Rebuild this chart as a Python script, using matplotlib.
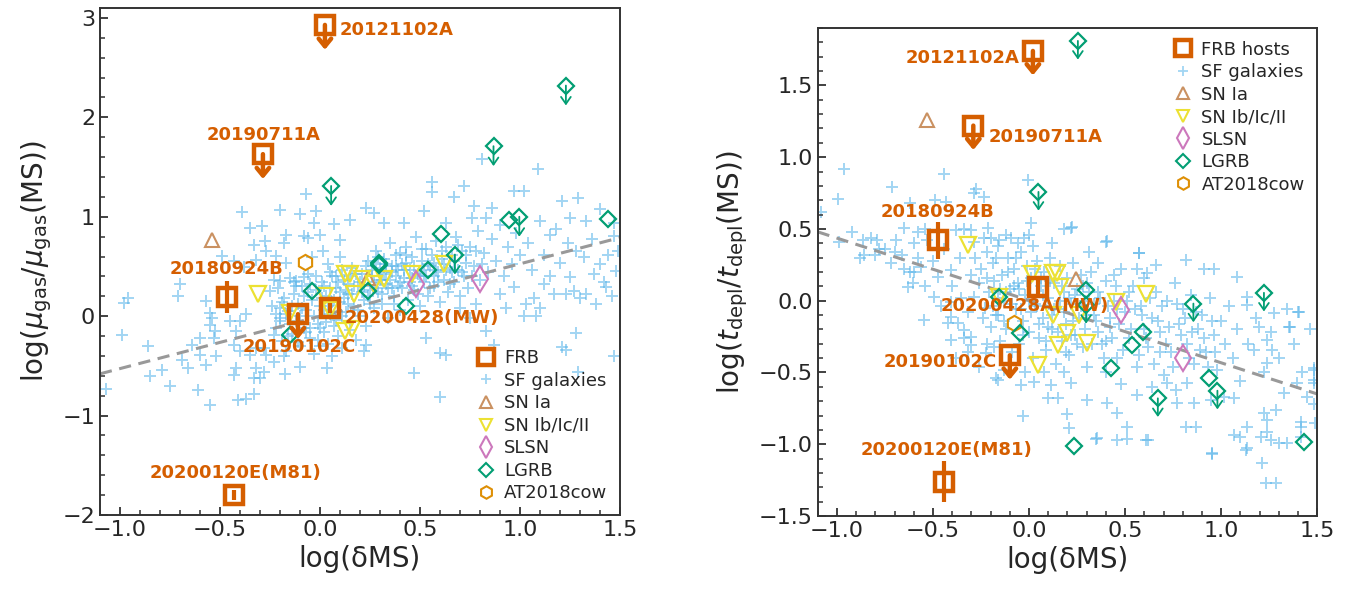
import matplotlib
matplotlib.use("Agg")
import matplotlib.pyplot as plt
from matplotlib.lines import Line2D
from matplotlib.ticker import MultipleLocator

plt.rcParams['font.family'] = ['DejaVu Sans']
plt.rcParams['mathtext.fontset'] = 'dejavusans'

C_FRB = '#d55e00'
C_SF = '#56b4e9'
C_IA = '#ca9161'
C_CC = '#ece133'
C_SLSN = '#cc78bc'
C_GRB = '#029e73'
C_COW = '#de8f05'
C_TXT = '#262626'

# ---------------- LEFT PANEL DATA: log(mu_gas / mu_gas(MS)) ----------------
frb_names_L = ['20121102A', '20190711A', '20180924B', '20190102C', '20200428(MW)', '20200120E(M81)']
frb_x_L = [0.025, -0.285, -0.465, -0.11, 0.05, -0.43]
frb_y_L = [2.93, 1.63, 0.19, 0.02, 0.08, -1.80]
frb_yerr_L = [0.0, 0.0, 0.16, 0.0, 0.05, 0.05]
frb_ul_L = [True, True, False, True, False, False]
frb_lab_x_L = [0.10, -0.28, -0.465, -0.105, 0.125, -0.42]
frb_lab_y_L = [2.88, 1.82, 0.47, -0.31, -0.02, -1.58]
frb_lab_ha_L = ['left', 'center', 'center', 'center', 'left', 'center']

sf_x_L = [-1.07, -0.99, -0.98, -0.96, -0.86, -0.85, -0.79, -0.75, -0.61, -0.55,
          -0.41, -0.37, -0.33, -0.43, -0.42, -0.70, -0.71, -0.49, -0.39, -0.20,
          -0.07, -0.10, -0.02, -0.03, 0.07, 0.15, -0.35, -0.29, -0.17, -0.18,
          -0.08, -0.06, 0.10, 0.56, 0.56, 0.72, 0.67, 1.09, 0.81, 0.97,
          1.02, 1.21, 1.29, 0.52, 0.23, 0.27, 0.32, 0.42, 0.63, 0.77,
          0.76, 0.83, 0.86, 1.10, 1.18, 1.25, 1.33, 1.40, 1.47, 1.47,
          1.49, 1.48, 1.28, 1.40, 1.37, 1.42, 1.43, 1.25, 1.27, 1.30,
          1.23, 1.33, 1.12, 1.17, 1.07, 1.03, 1.10, 1.02, 1.08, 0.90,
          0.93, 0.97, 0.78, 0.83, 0.87, 0.70, 0.75, 0.60, 0.63, 0.53,
          0.47, 0.60, 1.28, 1.23, 1.29, 1.47, 1.21, 0.23, 0.22,
          -0.69, -0.66, -0.57, -0.52, -0.60, -0.64, -0.60, -0.55, -0.525, -0.53,
          -0.54, -0.57, -0.55, -0.45, -0.40, -0.37, -0.42, -0.43, -0.40, -0.35,
          -0.32, -0.28, -0.27, -0.32, -0.23, -0.23, -0.20, -0.17, -0.20, -0.25,
          -0.20, -0.12, -0.08, -0.43, -0.38, -0.32, -0.22, -0.17, -0.33, -0.275,
          -0.27, 0.00, 0.017, -0.10, 0.033, -0.175, -0.33, -0.30, -0.28,
          -0.24, -0.22, -0.21, -0.19, -0.18, -0.17, -0.16, -0.15, -0.14, -0.13,
          -0.12, -0.11, -0.10, -0.09, -0.08, -0.07, -0.06, -0.05, -0.04, -0.03,
          -0.02, -0.01, 0.00, 0.01, 0.02, 0.03, 0.04, 0.05, 0.06, 0.07,
          0.08, 0.09, 0.10, 0.11, 0.12, 0.13, 0.14, 0.15, 0.16, 0.17,
          0.18, 0.19, 0.20, 0.21, 0.22, 0.23, 0.24, 0.25, -0.20, -0.23,
          -0.15, -0.12, -0.08, -0.05, -0.02, 0.02, 0.05, 0.08, 0.11, 0.14,
          0.00, -0.10, 0.06, -0.18, 0.10, 0.04, -0.04,
          0.26, 0.27, 0.28, 0.29, 0.30, 0.31, 0.32, 0.33, 0.34, 0.35,
          0.36, 0.37, 0.38, 0.39, 0.40, 0.41, 0.42, 0.43, 0.44, 0.45,
          0.46, 0.47, 0.48, 0.49, 0.50, 0.51, 0.52, 0.53, 0.54, 0.55,
          0.56, 0.57, 0.58, 0.59, 0.60, 0.61, 0.62, 0.63, 0.64, 0.65,
          0.66, 0.67, 0.68, 0.69, 0.70, 0.71, 0.72, 0.73, 0.74, 0.75,
          0.28, 0.33, 0.38, 0.43, 0.31, 0.36, 0.46, 0.52, 0.57, 0.40,
          0.77, 0.79, 0.80, 0.82, 0.84, 0.86, 0.88, 0.90, 0.92, 0.94,
          0.96, 0.98, 1.00, 1.04, 1.06, 1.12, 1.15, 1.20, 1.24, 1.32,
          1.36, 1.44, 1.46, 1.38, 1.15]
sf_y_L = [-0.73, -0.19, 0.13, 0.18, -0.30, -0.60, -0.54, -0.70, -0.74, -0.89,
          -0.84, -0.83, -0.78, -0.59, -0.52, 0.32, 0.20, 0.61, 1.05, 1.07,
          1.23, 1.03, 1.06, 0.94, 0.93, 0.97, 0.89, 0.91, 0.82, 0.74,
          0.81, 0.79, 0.77, 1.35, 1.25, 1.31, 1.20, 1.48, 1.58, 1.26,
          1.26, 1.16, 1.19, 1.06, 1.09, 1.04, 0.94, 0.94, 0.94, 1.11,
          0.99, 0.99, 1.09, 0.96, 0.88, 0.99, 0.96, 1.08, 0.94, 0.81,
          0.66, 0.45, 0.66, 0.52, 0.42, 0.34, 0.29, 0.39, 0.25, 0.18,
          0.22, 0.22, 0.32, 0.22, 0.18, 0.12, 0.08, 0.00, 0.00, 0.22,
          0.08, 0.29, 0.12, -0.15, -0.29, 0.08, -0.02, -0.37, -0.39, -0.22,
          -0.57, -0.81, -0.17, -0.34, -0.56, -0.40, -0.31, -0.29, -0.35,
          -0.44, -0.52, -0.49, -0.40, -0.39, -0.29, -0.22, -0.09, -0.15, -0.22,
          -0.02, 0.15, 0.03, -0.05, -0.05, 0.02, -0.15, -0.29, -0.35, -0.39,
          -0.32, -0.32, -0.39, -0.52, -0.46, -0.19, -0.05, 0.02, 0.08, 0.25,
          0.35, 0.35, 0.39, 0.56, 0.49, 0.57, 0.61, 0.54, 0.72, 0.76,
          0.66, 0.82, 0.66, -0.51, -0.52, -0.58, -0.62, -0.62, -0.56,
          0.10, -0.12, 0.28, -0.25, 0.18, -0.35, 0.05, 0.38, -0.18, 0.22,
          -0.05, 0.12, -0.30, 0.30, -0.12, 0.06, 0.42, -0.22, 0.16, -0.38,
          0.26, -0.08, 0.10, 0.34, -0.16, 0.20, -0.28, 0.02, 0.40, -0.10,
          0.28, -0.20, 0.14, -0.32, 0.36, 0.04, 0.22, -0.14, 0.48, 0.10,
          -0.24, 0.30, 0.00, 0.42, 0.16, -0.10, 0.56, 0.26, -0.02, 0.36,
          -0.08, 0.30, 0.20, -0.12, 0.40, 0.06, 0.28, -0.04, 0.46, 0.12,
          -0.30, 0.00, -0.40, -0.40, 0.60, 0.52, 0.60,
          0.40, 0.08, 0.66, 0.24, 0.48, 0.12, 0.58, 0.32, -0.02, 0.74,
          0.44, 0.20, 0.62, 0.30, 0.06, 0.52, 0.38, 0.70, 0.16, 0.46,
          0.60, 0.26, 0.80, 0.42, 0.10, 0.56, 0.34, 0.68, 0.20, 0.50,
          0.62, 0.30, 0.76, 0.44, 0.14, 0.58, 0.36, 0.70, 0.24, 0.48,
          0.62, 0.34, 0.80, 0.46, 0.20, 0.66, 0.40, 0.54, 0.28, 0.70,
          0.52, 0.44, 0.50, 0.54, 0.36, 0.28, 0.38, 0.46, 0.40, 0.64,
          0.50, 0.86, 0.36, 0.64, 0.44, 0.78, 0.56, 0.92, 0.40, 0.70,
          0.52, 0.84, 0.62, 0.74, 0.46, 0.62, 0.82, 0.54, 0.74, 0.60,
          0.78, 0.62, 0.20, 0.12, 0.40]

# dense core of the SF cloud (left)
sfc_x_L = [-0.22, -0.19, -0.16, -0.13, -0.11, -0.09, -0.07, -0.05, -0.03, -0.01,
           0.01, 0.03, 0.05, 0.07, 0.09, 0.11, 0.13, 0.15, 0.17, 0.19,
           0.21, 0.23, 0.25, 0.27, 0.29, 0.31, 0.33, 0.35, 0.37, 0.39,
           0.41, 0.43, 0.45, 0.47, 0.49, 0.51, 0.53, 0.55, 0.57, 0.59,
           0.61, 0.63, 0.65, 0.67, 0.69, 0.71, 0.73, 0.76, 0.78, 0.81,
           0.02, 0.06, 0.10, 0.14, 0.18, 0.22, 0.26, 0.30, 0.34, 0.38,
           0.42, 0.46, 0.50, 0.54, 0.58, 0.62, 0.66, -0.14, -0.06, 0.00,
           0.04, 0.08, 0.12, 0.16, 0.20, 0.24, 0.28, 0.32, 0.36, 0.40]
sfc_y_L = [0.02, 0.14, -0.20, 0.34, -0.26, 0.08, -0.16, 0.32, 0.00, -0.24,
           0.18, -0.06, 0.44, 0.16, 0.34, 0.00, 0.26, 0.40, 0.30, 0.06,
           0.24, 0.50, 0.12, 0.34, 0.60, 0.22, 0.52, 0.36, 0.12, 0.46,
           0.28, 0.62, 0.34, 0.50, 0.22, 0.68, 0.40, 0.28, 0.54, 0.34,
           0.66, 0.46, 0.32, 0.56, 0.72, 0.44, 0.62, 0.40, 0.66, 0.52,
           0.30, 0.14, 0.24, 0.32, 0.42, 0.30, 0.46, 0.36, 0.28, 0.40,
           0.46, 0.30, 0.40, 0.52, 0.46, 0.52, 0.44, 0.10, 0.24, -0.12,
           0.10, 0.40, 0.18, 0.22, 0.34, 0.20, 0.28, 0.42, 0.50, 0.34]

ia_x_L = [-0.54, 0.24]
ia_y_L = [0.77, 0.38]
cc_x_L = [-0.31, -0.15, 0.025, 0.05, 0.125, 0.15, 0.21, 0.32, 0.17, 0.27, 0.125, 0.16, 0.46, 0.62]
cc_y_L = [0.22, 0.03, 0.20, 0.06, 0.42, 0.42, 0.37, 0.37, 0.22, 0.32, -0.15, -0.13, 0.42, 0.52]
slsn_x_L = [0.48, 0.80]
slsn_y_L = [0.32, 0.37]
grb_x_L = [0.056, 0.868, 1.23, 0.997, 0.943, 1.443, 0.604, 0.675, 0.54, 0.295, 0.295, 0.242, -0.042, -0.15, 0.43]
grb_y_L = [1.31, 1.71, 2.32, 1.00, 0.97, 0.98, 0.83, 0.62, 0.46, 0.54, 0.51, 0.25, 0.25, -0.19, 0.10]
grb_ul_L = [True, True, True, True, False, False, False, True, False, False, False, False, False, False, False]
cow_x_L = [-0.075]
cow_y_L = [0.55]
fit_x_L = [-1.1, 1.5]
fit_y_L = [-0.58, 0.79]

# ---------------- RIGHT PANEL DATA: log(t_depl / t_depl(MS)) ----------------
frb_names_R = ['20121102A', '20190711A', '20180924B', '20190102C', '20200428A(MW)', '20200120E(M81)']
frb_x_R = [0.02, -0.29, -0.475, -0.10, 0.045, -0.44]
frb_y_R = [1.74, 1.22, 0.42, -0.38, 0.094, -1.26]
frb_yerr_R = [0.0, 0.0, 0.13, 0.0, 0.05, 0.14]
frb_ul_R = [True, True, False, True, False, False]
frb_lab_x_R = [-0.05, -0.21, -0.476, -0.17, -0.024, -0.43]
frb_lab_y_R = [1.69, 1.14, 0.62, -0.43, -0.04, -1.04]
frb_lab_ha_R = ['right', 'left', 'center', 'right', 'center', 'center']

sf_x_R = [-0.965, -1.083, -0.996, -0.44, -0.715, -0.285, -0.233, -0.277, -0.62, -0.49,
          -0.43, -0.008, 0.009, 0.18, -0.65, -0.58, -0.54, -0.53, -0.60, -0.866,
          -0.79, -0.69, -0.75, -0.857, -0.80, -0.70, -0.987, -0.38, -0.34, -0.30,
          -0.285, -0.233, -0.216, -0.155, -0.095, -0.025, -0.65, -0.60, -0.56, -0.476,
          -0.407, -0.63, -0.606, -0.493, -0.407, -0.355, -0.285, -0.407, -0.424, -0.372,
          -0.337, -0.303, -0.407, -0.303, -0.545, -0.32, -0.225, -0.164, -0.13, -0.043,
          0.027, 0.113, 0.096, 0.148, -0.034, 0.22, 0.40, 0.57, 1.40, 1.36,
          1.48, 1.48, 0.95, 1.13, 0.62, 0.51, 0.35, 0.21, 0.20, -0.17,
          0.226, 0.405, 0.313, 0.573, 0.66, 0.564, 0.616, 0.815, 0.91, 0.963,
          1.084, 1.136, 1.136, 1.197, 1.275, 1.405, 1.353, 1.24, 1.266, 1.17,
          1.24, 1.483, 1.483, 1.396, 1.327, 1.448, 1.283, 1.222, 1.24, 1.413,
          1.49, 1.413, 1.136, 1.067, 1.10, 1.136, 1.205, 1.24, 1.257, 1.30,
          1.344, 1.413, 0.954, 1.214, 1.231, 1.283, 0.607, 0.46, 0.356, 0.512,
          0.867, 0.815, 0.46, 0.408, 0.304, 0.217, 0.772, 0.859, 0.945, 1.015,
          1.067, 0.72, 0.763, 0.824,
          -0.28, -0.26, -0.25, -0.23, -0.22, -0.21, -0.20, -0.19, -0.18, -0.17,
          -0.16, -0.15, -0.14, -0.13, -0.12, -0.11, -0.10, -0.09, -0.08, -0.07,
          -0.06, -0.05, -0.04, -0.03, -0.02, -0.01, 0.00, 0.01, 0.02, 0.03,
          0.04, 0.05, 0.06, 0.07, 0.08, 0.09, 0.10, 0.11, 0.12, 0.13,
          0.14, 0.15, 0.16, 0.17, 0.18, 0.19, 0.20, 0.21, 0.22, 0.23,
          0.24, 0.25, 0.26, 0.27, 0.28, 0.29, 0.30, -0.24, -0.18, -0.10,
          -0.06, 0.02, 0.08, -0.20, -0.12, 0.00, 0.12, -0.02, 0.18, -0.16,
          0.32, 0.34, 0.36, 0.38, 0.40, 0.42, 0.44, 0.46, 0.48, 0.50,
          0.52, 0.54, 0.56, 0.58, 0.60, 0.62, 0.64, 0.66, 0.68, 0.70,
          0.72, 0.74, 0.76, 0.78, 0.80, 0.82, 0.84, 0.86, 0.88, 0.90,
          0.92, 0.94, 0.96, 0.98, 1.00, 1.02, 1.04, 1.06, 1.08, 1.10,
          1.14, 1.18, 1.22, 1.26, 1.30, 1.34, 1.38, 1.42, 1.46, 1.48,
          0.36, 0.44, 0.52, 0.60, 0.68, 0.40, 0.48, 0.56, 0.64, 0.30,
          -0.30, -0.32, -0.36, -0.40, -0.44, -0.46, -0.50, -0.54, -0.58, -0.62,
          -0.66, -0.72, -0.78, -0.82, -0.92, -0.88, -0.34, -0.38, -0.26, -0.22]
sf_y_R = [0.916, 0.62, 0.71, 0.88, 0.79, 0.75, 0.72, 0.78, 0.68, 0.70,
          0.69, 0.84, 0.54, 0.50, 0.51, 0.48, 0.50, 0.42, 0.40, 0.42,
          0.42, 0.42, 0.36, 0.32, 0.32, 0.34, 0.41, 0.49, 0.50, 0.49,
          0.41, 0.44, 0.51, 0.42, 0.44, 0.44, 0.224, 0.20, 0.236, 0.166,
          0.213, 0.097, 0.12, 0.027, -0.008, 0.016, 0.027, -0.112, -0.158, -0.158,
          -0.205, -0.251, -0.274, -0.31, -0.135, -0.356, -0.367, -0.553, -0.483, -0.588,
          -0.565, -0.588, -0.68, -0.68, -0.80, 0.51, 0.41, 0.33, -0.08, -0.18,
          -0.47, -0.57, -1.07, -1.04, -0.97, -0.96, -0.96, -0.89, -0.79, -0.54,
          0.514, 0.417, 0.34, 0.329, 0.248, 0.224, 0.19, 0.282, 0.224, 0.224,
          0.166, 0.027, -0.031, -0.182, -0.089, -0.077, -0.182, -0.274, -0.344, -0.344,
          -0.437, -0.483, -0.553, -0.576, -0.646, -0.669, -0.762, -0.785, -0.831, -0.843,
          -0.855, -0.878, -0.878, -0.936, -0.947, -1.029, -0.947, -0.913, -0.97, -0.994,
          -0.994, -0.947, -1.063, -1.133, -1.272, -1.272, -0.97, -0.97, -0.959, -0.878,
          -0.878, -0.878, -0.785, -0.715, -0.692, -0.576, -0.715, -0.715, -0.692, -0.669,
          -0.68, -0.576, -0.622, -0.576,
          0.30, 0.12, 0.22, -0.05, 0.34, 0.06, -0.18, 0.26, 0.14, -0.10,
          0.38, -0.28, 0.18, 0.00, -0.20, 0.30, 0.08, -0.36, 0.22, -0.06,
          0.12, -0.30, 0.34, -0.14, 0.04, 0.24, -0.22, 0.16, -0.40, -0.02,
          0.28, -0.26, 0.10, -0.12, 0.20, -0.34, 0.02, 0.30, -0.20, 0.12,
          -0.44, -0.06, 0.24, -0.28, 0.06, -0.16, 0.16, -0.38, -0.02, 0.26,
          -0.24, 0.08, -0.12, 0.18, -0.32, 0.00, -0.46, -0.12, -0.32, -0.44,
          0.40, 0.38, -0.50, 0.44, 0.46, 0.46, 0.40, -0.50, -0.50, 0.02,
          0.20, -0.10, 0.06, -0.30, 0.14, -0.18, 0.00, -0.40, 0.22, -0.08,
          -0.26, 0.10, -0.46, -0.04, 0.16, -0.32, -0.12, 0.06, -0.22, -0.52,
          0.00, -0.36, 0.12, -0.16, -0.06, -0.30, 0.04, -0.44, -0.20, -0.10,
          -0.36, 0.02, -0.24, -0.48, -0.14, -0.30, -0.04, -0.40, -0.20, -0.56,
          -0.30, -0.12, -0.50, -0.22, -0.40, -0.06, -0.30, -0.50, -0.20, -0.72,
          0.26, 0.18, 0.06, -0.20, -0.36, -0.50, -0.58, -0.66, -0.60, 0.12,
          0.18, -0.08, 0.30, 0.10, 0.36, -0.04, 0.28, 0.10, 0.30, 0.20,
          0.32, 0.26, 0.36, 0.44, 0.48, 0.30, -0.26, -0.40, -0.46, -0.30]

# dense core of the SF cloud (right)
sfc_x_R = [-0.22, -0.19, -0.17, -0.15, -0.13, -0.11, -0.09, -0.07, -0.05, -0.03,
           -0.01, 0.01, 0.03, 0.05, 0.07, 0.09, 0.11, 0.13, 0.15, 0.17,
           0.19, 0.21, 0.23, 0.25, 0.27, 0.29, 0.31, 0.33, 0.35, 0.37,
           0.39, 0.41, 0.43, 0.45, 0.47, 0.49, 0.51, 0.53, 0.55, 0.57,
           0.59, 0.61, 0.63, 0.65, 0.67, 0.69, 0.71, 0.73, 0.75, 0.77,
           0.79, 0.81, 0.83, 0.85, 0.87, 0.89, 0.91, 0.93, 0.95, 0.97,
           -0.16, -0.08, 0.00, 0.06, 0.12, 0.18, 0.24, 0.30, 0.36, 0.42,
           -0.12, -0.04, 0.04, 0.10, 0.16, 0.22, 0.28, 0.34, 0.40, 0.46]
sfc_y_R = [0.16, -0.04, 0.30, 0.08, -0.14, 0.20, -0.02, 0.30, 0.08, -0.24,
           0.14, -0.08, 0.22, -0.16, 0.04, -0.28, 0.14, -0.06, -0.22, 0.10,
           -0.36, 0.02, -0.14, -0.30, -0.04, -0.20, 0.06, -0.30, -0.14, 0.02,
           -0.40, -0.04, -0.26, 0.10, -0.16, -0.34, 0.00, -0.20, -0.06, -0.38,
           -0.10, -0.26, 0.02, -0.44, -0.14, -0.04, -0.30, -0.18, -0.46, -0.02,
           -0.24, -0.12, -0.40, -0.22, -0.08, -0.34, -0.26, -0.46, -0.14, -0.36,
           -0.10, 0.10, 0.00, 0.16, -0.10, -0.08, 0.04, -0.10, -0.22, -0.12,
           0.06, -0.06, -0.04, -0.18, 0.00, -0.24, 0.10, -0.02, -0.28, -0.06]

ia_x_R = [-0.53, 0.242]
ia_y_R = [1.26, 0.15]
cc_x_R = [-0.317, 0.016, 0.125, 0.146, 0.162, 0.125, 0.258, 0.20, 0.149, 0.304, 0.049, 0.61, 0.45, -0.154]
cc_y_R = [0.39, 0.183, 0.19, 0.19, 0.096, -0.10, -0.10, -0.226, -0.31, -0.296, -0.45, 0.05, -0.008, 0.027]
slsn_x_R = [0.479, 0.80]
slsn_y_R = [-0.066, -0.40]
grb_x_R = [0.254, 0.049, -0.155, -0.048, 0.297, 0.297, 0.595, 0.538, 0.425, 0.67, 0.855, 0.937, 0.98, 1.222, 1.43, 0.235]
grb_y_R = [1.81, 0.758, 0.027, -0.223, 0.073, -0.03, -0.22, -0.31, -0.47, -0.68, -0.02, -0.54, -0.627, 0.055, -0.987, -1.01]
grb_ul_R = [True, True, False, False, False, True, False, False, False, True, True, False, True, True, False, False]
cow_x_R = [-0.076]
cow_y_R = [-0.154]
fit_x_R = [-1.1, 1.5]
fit_y_R = [0.48, -0.65]


def down_arrow(ax, x, y, length, color, lw, hw, hl):
    ax.annotate('', xy=(x, y - length), xytext=(x, y),
                arrowprops=dict(arrowstyle=f'->,head_width={hw},head_length={hl}',
                                color=color, lw=lw, shrinkA=0, shrinkB=0),
                zorder=6)


def panel(ax, d, ylim, ymin_step, ylabel, frb_label, legend_loc, legend_anchor,
          frb_arrow, grb_arrow):
    (frb_names, frb_x, frb_y, frb_yerr, frb_ul, lab_x, lab_y, lab_ha,
     sf_x, sf_y, sfc_x, sfc_y, ia_x, ia_y, cc_x, cc_y, slsn_x, slsn_y, grb_x, grb_y, grb_ul,
     cow_x, cow_y, fit_x, fit_y) = d

    ax.plot(sf_x, sf_y, ls='none', marker='+', ms=8, mew=1.4, color=C_SF, alpha=0.55, zorder=1)
    ax.plot(sfc_x, sfc_y, ls='none', marker='+', ms=8, mew=1.4, color=C_SF, alpha=0.55, zorder=1)
    ax.plot(fit_x, fit_y, ls=(0, (4, 2.5)), color='#999999', lw=2.2, zorder=2)
    ax.plot(ia_x, ia_y, ls='none', marker='^', ms=10, mfc='none', mew=1.5, color=C_IA, zorder=3)
    ax.plot(cc_x, cc_y, ls='none', marker='v', ms=11, mfc='none', mew=1.6, color=C_CC, zorder=3)
    ax.plot(slsn_x, slsn_y, ls='none', marker='d', ms=13, mfc='none', mew=1.5, color=C_SLSN, zorder=3)
    ax.plot(grb_x, grb_y, ls='none', marker='D', ms=8, mfc='none', mew=1.6, color=C_GRB, zorder=4)
    for x, y, u in zip(grb_x, grb_y, grb_ul):
        if u:
            down_arrow(ax, x, y, grb_arrow, C_GRB, 1.3, 0.35, 0.5)
    ax.plot(cow_x, cow_y, ls='none', marker='h', ms=11, mfc='none', mew=1.5, color=C_COW, zorder=3)

    for i in range(len(frb_x)):
        if frb_yerr[i] > 0:
            ax.errorbar(frb_x[i], frb_y[i], yerr=frb_yerr[i], fmt='none', ecolor=C_FRB,
                        elinewidth=3, capsize=0, zorder=5)
        ax.plot(frb_x[i], frb_y[i], ls='none', marker='s', ms=13, mfc='none', mew=3.2,
                color=C_FRB, zorder=5)
        if frb_ul[i]:
            down_arrow(ax, frb_x[i], frb_y[i], frb_arrow, C_FRB, 3.2, 0.45, 0.55)
        ax.text(lab_x[i], lab_y[i], frb_names[i], color=C_FRB, fontsize=13,
                fontweight='bold', ha=lab_ha[i], va='center', zorder=7)

    ax.set_xlim(-1.1, 1.5)
    ax.set_ylim(*ylim)
    ax.xaxis.set_major_locator(MultipleLocator(0.5))
    ax.xaxis.set_minor_locator(MultipleLocator(0.1))
    ax.yaxis.set_minor_locator(MultipleLocator(ymin_step))
    ax.tick_params(which='both', direction='in', top=False, right=False,
                   colors='#333333', labelcolor=C_TXT, labelsize=16)
    ax.tick_params(which='major', length=6, width=1.3)
    ax.tick_params(which='minor', length=3.5, width=1.1)
    for s in ax.spines.values():
        s.set_color('#333333')
        s.set_linewidth(1.4)
    ax.set_xlabel('log(δMS)', fontsize=20, color=C_TXT, labelpad=4)
    ax.set_ylabel(ylabel, fontsize=20, color=C_TXT, labelpad=6)

    handles = [
        Line2D([], [], ls='none', marker='s', ms=12, mfc='none', mew=3.2, color=C_FRB),
        Line2D([], [], ls='none', marker='+', ms=7, mew=1.3, color=C_SF, alpha=0.55),
        Line2D([], [], ls='none', marker='^', ms=9, mfc='none', mew=1.5, color=C_IA),
        Line2D([], [], ls='none', marker='v', ms=9, mfc='none', mew=1.5, color=C_CC),
        Line2D([], [], ls='none', marker='d', ms=11, mfc='none', mew=1.5, color=C_SLSN),
        Line2D([], [], ls='none', marker='D', ms=7, mfc='none', mew=1.5, color=C_GRB),
        Line2D([], [], ls='none', marker='h', ms=9, mfc='none', mew=1.5, color=C_COW),
    ]
    labels = [frb_label, 'SF galaxies', 'SN Ia', 'SN Ib/Ic/II', 'SLSN', 'LGRB', 'AT2018cow']
    leg = ax.legend(handles, labels, loc=legend_loc, bbox_to_anchor=legend_anchor,
                    frameon=False, fontsize=13, handlelength=1.0, handletextpad=0.5,
                    labelspacing=0.25, borderaxespad=0.3)
    for t in leg.get_texts():
        t.set_color(C_TXT)


fig = plt.figure(figsize=(13.47, 5.93), dpi=100)
axL = fig.add_axes([0.0742, 0.1315, 0.386, 0.855])
axR = fig.add_axes([0.607, 0.1298, 0.371, 0.823])

dL = (frb_names_L, frb_x_L, frb_y_L, frb_yerr_L, frb_ul_L, frb_lab_x_L, frb_lab_y_L, frb_lab_ha_L,
      sf_x_L, sf_y_L, sfc_x_L, sfc_y_L, ia_x_L, ia_y_L, cc_x_L, cc_y_L, slsn_x_L, slsn_y_L,
      grb_x_L, grb_y_L, grb_ul_L, cow_x_L, cow_y_L, fit_x_L, fit_y_L)
dR = (frb_names_R, frb_x_R, frb_y_R, frb_yerr_R, frb_ul_R, frb_lab_x_R, frb_lab_y_R, frb_lab_ha_R,
      sf_x_R, sf_y_R, sfc_x_R, sfc_y_R, ia_x_R, ia_y_R, cc_x_R, cc_y_R, slsn_x_R, slsn_y_R,
      grb_x_R, grb_y_R, grb_ul_R, cow_x_R, cow_y_R, fit_x_R, fit_y_R)

panel(axL, dL, (-2.0, 3.1), 0.2, r'log($\mu_{\rm gas}/\mu_{\rm gas}$(MS))', 'FRB',
      'lower right', (1.0, 0.0), 0.25, 0.2)
panel(axR, dR, (-1.5, 1.9), 0.1, r'log($t_{\rm depl}/t_{\rm depl}$(MS))', 'FRB hosts',
      'upper right', (1.0, 1.0), 0.17, 0.13)

fig.savefig('out.png', dpi=100)
